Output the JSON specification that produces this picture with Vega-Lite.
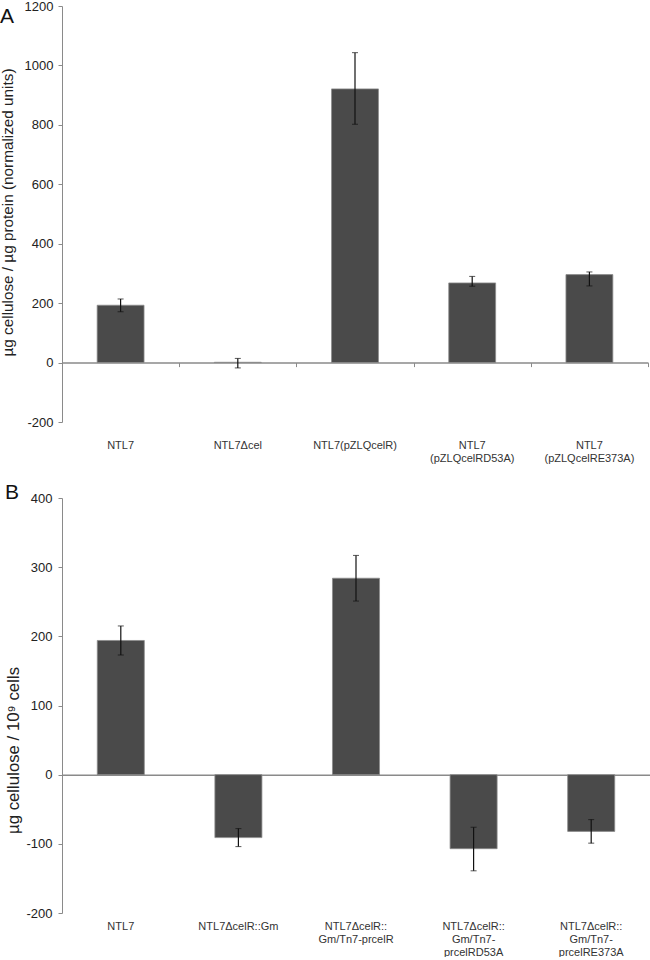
{
  "$schema": "https://vega.github.io/schema/vega-lite/v6.json",
  "padding": {"left": 0, "top": 0, "right": 0, "bottom": 0},
  "spacing": 18,
  "config": {
    "font": "Liberation Sans",
    "view": {"stroke": null},
    "axis": {"grid": false, "domainColor": "#8a8a8a", "tickColor": "#8a8a8a", "labelColor": "#222222", "titleColor": "#222222", "labelFont": "Liberation Sans", "titleFont": "Liberation Sans"},
    "title": {"font": "Liberation Sans", "color": "#111111"}
  },
  "datasets": {
    "a": [
      {"strain": "NTL7", "value": 193, "lo": 171, "hi": 214},
      {"strain": "NTL7Δcel", "value": 1, "lo": -18, "hi": 14},
      {"strain": "NTL7(pZLQcelR)", "value": 921, "lo": 802, "hi": 1043},
      {"strain": "NTL7|(pZLQcelRD53A)", "value": 268, "lo": 257, "hi": 290},
      {"strain": "NTL7|(pZLQcelRE373A)", "value": 296, "lo": 258, "hi": 305}
    ],
    "b": [
      {"strain": "NTL7", "value": 194, "lo": 173, "hi": 215},
      {"strain": "NTL7ΔcelR::Gm", "value": -91, "lo": -104, "hi": -78},
      {"strain": "NTL7ΔcelR::|Gm/Tn7-prcelR", "value": 284, "lo": 251, "hi": 317},
      {"strain": "NTL7ΔcelR::|Gm/Tn7-|prcelRD53A", "value": -107, "lo": -139, "hi": -76},
      {"strain": "NTL7ΔcelR::|Gm/Tn7-|prcelRE373A", "value": -82, "lo": -99, "hi": -65}
    ]
  },
  "vconcat": [
    {
      "width": 586,
      "height": 416,
      "title": {"text": "A", "anchor": "start", "frame": "bounds", "fontSize": 21, "fontWeight": "normal", "offset": -27},
      "data": {"name": "a"},
      "resolve": {"axis": {"x": "independent"}},
      "layer": [
        {
          "mark": {"type": "bar", "width": {"band": 0.4}, "color": "#4a4a4a", "stroke": "#8c8c8c", "strokeWidth": 0.8},
          "encoding": {
            "x": {"field": "strain", "type": "nominal", "sort": null, "scale": {"paddingInner": 0, "paddingOuter": 0},
              "axis": {"title": null, "domain": false, "ticks": false, "labelAngle": 0, "labelFontSize": 11, "labelColor": "#333333", "labelPadding": 17, "labelLineHeight": 13.5, "labelExpr": "split(datum.label, '|')"}},
            "y": {"field": "value", "type": "quantitative", "scale": {"domain": [-200, 1200], "nice": false},
              "axis": {"values": [-200, 0, 200, 400, 600, 800, 1000, 1200], "labelExpr": "toString(datum.value)", "title": "µg cellulose / µg protein (normalized units)", "titleFontSize": 15.3, "titleFontWeight": "normal", "titleX": -47, "titleY": 206, "labelFontSize": 13, "tickSize": 4, "labelPadding": 5}}
          }
        },
        {
          "mark": {"type": "errorbar", "ticks": {"size": 6, "color": "#111111"}, "rule": {"color": "#111111", "strokeWidth": 1.2}},
          "encoding": {
            "x": {"field": "strain", "type": "nominal", "sort": null,
              "axis": {"orient": "bottom", "offset": -59.4, "labels": false, "title": null, "domain": true, "ticks": true, "tickBand": "extent", "tickSize": 4, "domainWidth": 1.5}},
            "y": {"field": "lo", "type": "quantitative", "title": "µg cellulose / µg protein (normalized units)"},
            "y2": {"field": "hi"}
          }
        }
      ]
    },
    {
      "width": 588,
      "height": 415,
      "title": {"text": "B", "anchor": "start", "frame": "bounds", "fontSize": 21, "fontWeight": "normal", "offset": -11},
      "data": {"name": "b"},
      "resolve": {"axis": {"x": "independent"}},
      "layer": [
        {
          "mark": {"type": "bar", "width": {"band": 0.4}, "color": "#4a4a4a", "stroke": "#8c8c8c", "strokeWidth": 0.8},
          "encoding": {
            "x": {"field": "strain", "type": "nominal", "sort": null, "scale": {"paddingInner": 0, "paddingOuter": 0},
              "axis": {"title": null, "domain": false, "ticks": false, "labelAngle": 0, "labelFontSize": 11, "labelColor": "#333333", "labelPadding": 7, "labelLineHeight": 13, "labelExpr": "split(datum.label, '|')"}},
            "y": {"field": "value", "type": "quantitative", "scale": {"domain": [-200, 400], "nice": false},
              "axis": {"values": [-200, -100, 0, 100, 200, 300, 400], "labelExpr": "toString(datum.value)", "title": "µg cellulose / 10⁹ cells", "titleFontSize": 16.8, "titleFontWeight": "normal", "titleX": -40, "titleY": 252, "labelFontSize": 13, "tickSize": 4, "labelPadding": 6}}
          }
        },
        {
          "mark": {"type": "errorbar", "ticks": {"size": 6, "color": "#111111"}, "rule": {"color": "#111111", "strokeWidth": 1.2}},
          "encoding": {
            "x": {"field": "strain", "type": "nominal", "sort": null,
              "axis": {"orient": "bottom", "offset": -138.3, "labels": false, "title": null, "domain": true, "ticks": false, "domainWidth": 1.5}},
            "y": {"field": "lo", "type": "quantitative", "title": "µg cellulose / 10⁹ cells"},
            "y2": {"field": "hi"}
          }
        }
      ]
    }
  ]
}
